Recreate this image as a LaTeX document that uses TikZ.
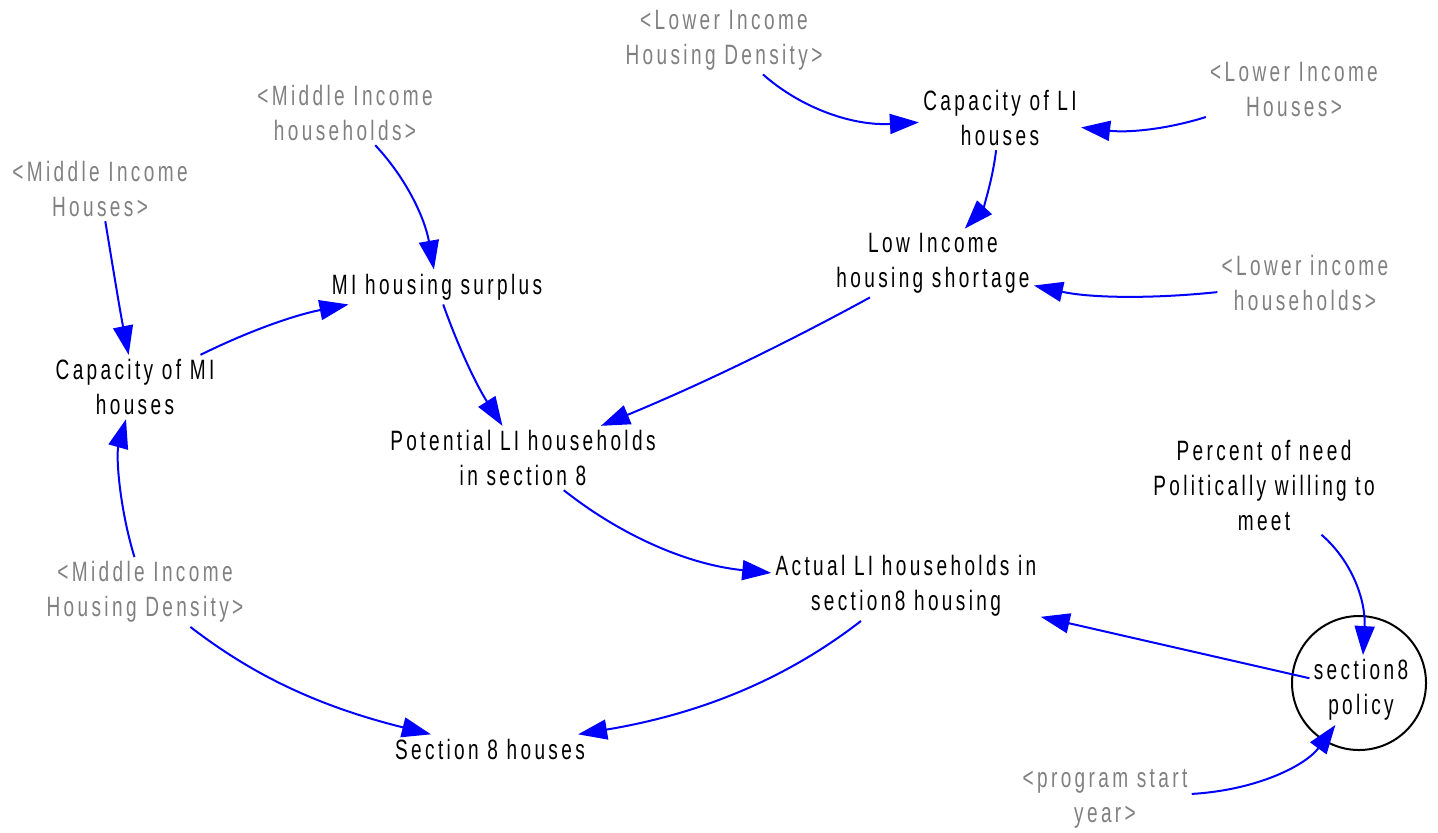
\documentclass[tikz,border=0pt]{standalone}
\usepackage{fontspec}
\setmainfont{Liberation Sans}[FakeStretch=0.68,LetterSpace=12]
\usetikzlibrary{arrows.meta}
\definecolor{linkblue}{RGB}{0,0,255}
\definecolor{shadowgray}{RGB}{128,128,128}

\begin{document}
\begin{tikzpicture}[x=0.5pt,y=-0.5pt,
  var/.style={align=center,inner sep=2pt,font=\fontsize{14}{17.5}\selectfont},
  shadowvar/.style={var,text=shadowgray},
  link/.style={draw=linkblue,line width=1pt,-{Triangle[length=14.5pt,width=10pt]}},
  ring/.style={draw=black,line width=1pt,circle,minimum size=67pt,inner sep=0pt}]
\useasboundingbox (0,0) rectangle (1438,832);

% variables
\node[shadowvar] (LIHD)   at (724,40)   {<Lower Income\\Housing Density>};
\node[var]       (CapLI)  at (1000,118) {Capacity of LI\\houses};
\node[shadowvar] (LIH)    at (1294,89)  {<Lower Income\\Houses>};
\node[shadowvar] (MIhh)   at (345,113)  {<Middle Income\\households>};
\node[shadowvar] (MIH)    at (100,189)  {<Middle Income\\Houses>};
\node[var]       (MIsur)  at (437,287)  {MI housing surplus};
\node[var]       (LowInc) at (933,263)  {Low Income\\housing shortage};
\node[shadowvar] (LIhh)   at (1305,283) {<Lower income\\households>};
\node[var]       (CapMI)  at (135,387)  {Capacity of MI\\houses};
\node[var]       (PotLI)  at (523,458)  {Potential LI households\\in section 8};
\node[var]       (Pct)    at (1264,485) {Percent of need\\Politically willing to\\meet};
\node[shadowvar] (MIHD)   at (145,592)  {<Middle Income\\Housing Density>};
\node[var]       (Actual) at (906,586)  {Actual LI households in\\section8 housing};
\node[ring]      (polring) at (1359,683) {};
\node[var]       (pol)    at (1361,690) {section8\\policy};
\node[var]       (Sec8)   at (490,749)  {Section 8 houses};
\node[shadowvar] (prog)   at (1105,799) {<program start\\year>};

% causal links
\draw[link] (LIHD)   .. controls (801,108) and (852,126) .. (CapLI);
\draw[link] (LIH)    .. controls (1168,129) and (1129,133) .. (CapLI);
\draw[link] (CapLI)  .. controls (992,184) and (982,210) .. (LowInc);
\draw[link] (LIhh)   .. controls (1151,299) and (1090,298) .. (LowInc);
\draw[link] (MIhh)   .. controls (407,179) and (425,219) .. (MIsur);
\draw[link] (MIH)    .. controls (113,268) and (120,311) .. (CapMI);
\draw[link] (CapMI)  .. controls (251,330) and (295,315) .. (MIsur);
\draw[link] (MIsur)  .. controls (459,349) and (477,386) .. (PotLI);
\draw[link] (LowInc) .. controls (792,340) and (707,382) .. (PotLI);
\draw[link] (MIHD)   .. controls (119,506) and (116,455) .. (CapMI);
\draw[link] (PotLI)  .. controls (623,537) and (690,565) .. (Actual);
\draw[link] (MIHD)   .. controls (249,672) and (313,705) .. (Sec8);
\draw[link] (Actual) .. controls (790,676) and (706,713) .. (Sec8);
\draw[link] (pol) -- (Actual);
\draw[link] (Pct)    .. controls (1353,562) and (1366,602) .. (pol);
\draw[link] (prog)   .. controls (1258,790) and (1306,765) .. (pol);
\end{tikzpicture}
\end{document}
